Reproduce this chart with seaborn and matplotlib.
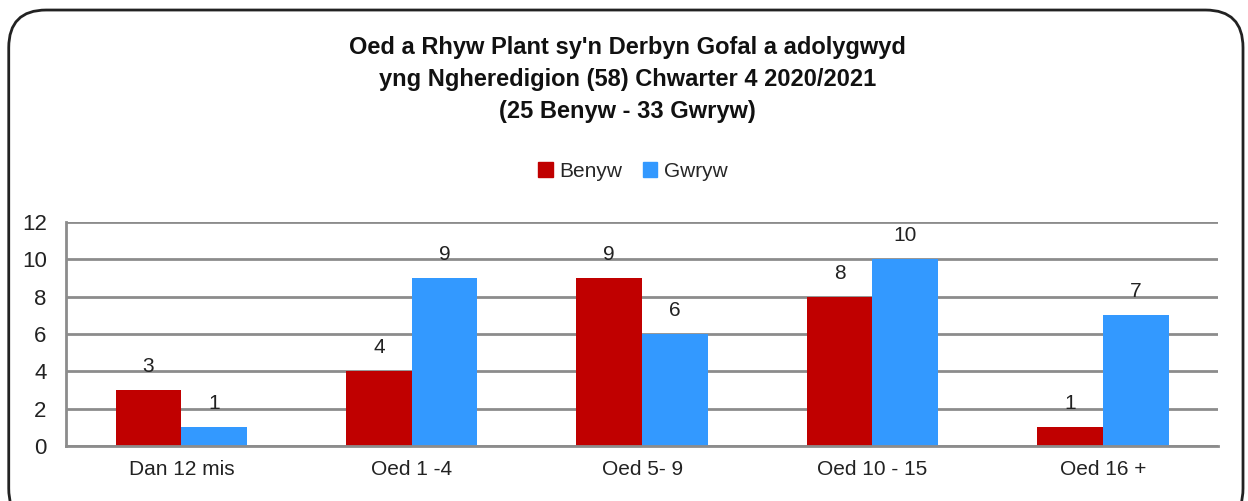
import pandas as pd
import numpy as np
import matplotlib.pyplot as plt
import seaborn as sns
from matplotlib.patches import FancyBboxPatch

categories = ["Dan 12 mis", "Oed 1 -4", "Oed 5- 9", "Oed 10 - 15", "Oed 16 +"]
benyw = [3, 4, 9, 8, 1]
gwryw = [1, 9, 6, 10, 7]
series = ["Benyw", "Gwryw"]
colors = ["#C00000", "#3399FF"]
title = ("Oed a Rhyw Plant sy'n Derbyn Gofal a adolygwyd\n"
         "yng Ngheredigion (58) Chwarter 4 2020/2021\n"
         "(25 Benyw - 33 Gwryw)")

df = pd.DataFrame({
    "cat": categories * 2,
    "value": benyw + gwryw,
    "series": [series[0]] * len(categories) + [series[1]] * len(categories),
})

sns.set_theme(style="white")
plt.rcParams["font.family"] = ["Liberation Sans Narrow", "Liberation Sans", "DejaVu Sans"]

fig = plt.figure(figsize=(12.48, 5.01), dpi=100)
ax = fig.add_axes([0.053, 0.110, 0.923, 0.447])

sns.barplot(data=df, x="cat", y="value", hue="series", palette=colors,
            width=0.57, saturation=1, ax=ax, legend=False, linewidth=0)

for c in ax.containers:
    ax.bar_label(c, padding=10, fontsize=15, color="#222222")

ax.set_ylim(0, 12)
ax.set_yticks(range(0, 13, 2))
ax.set_xlim(-0.5, len(categories) - 0.5)
ax.set_xlabel("")
ax.set_ylabel("")
ax.grid(axis="y", color="#8c8c8c", linewidth=2)
ax.set_axisbelow(True)
for s in ["top", "right"]:
    ax.spines[s].set_visible(False)
ax.spines["bottom"].set_color("#8c8c8c")
ax.spines["bottom"].set_linewidth(2)
ax.spines["left"].set_color("#8c8c8c")
ax.spines["left"].set_linewidth(2)
ax.tick_params(axis="both", length=0, labelsize=15, colors="#222222")
ax.tick_params(axis="y", labelsize=16, pad=14)
ax.tick_params(axis="x", pad=10)

fig.text(0.503, 0.928, title, ha="center", va="top", fontsize=17,
         fontweight="bold", linespacing=1.5, color="#111111")

handles = [plt.Rectangle((0, 0), 1, 1, color=col) for col in colors]
fig.legend(handles, series, loc="center", bbox_to_anchor=(0.507, 0.658),
           ncol=2, frameon=False, fontsize=15, handlelength=0.7,
           handleheight=0.7, handletextpad=0.3, columnspacing=1.0)

border = FancyBboxPatch((0.007, -0.05), 0.989, 1.03,
                        boxstyle="round,pad=0,rounding_size=0.03",
                        transform=fig.transFigure, fill=False,
                        edgecolor="#222222", linewidth=2, mutation_aspect=2.5)
fig.patches.append(border)

fig.savefig("out.png", dpi=100)
